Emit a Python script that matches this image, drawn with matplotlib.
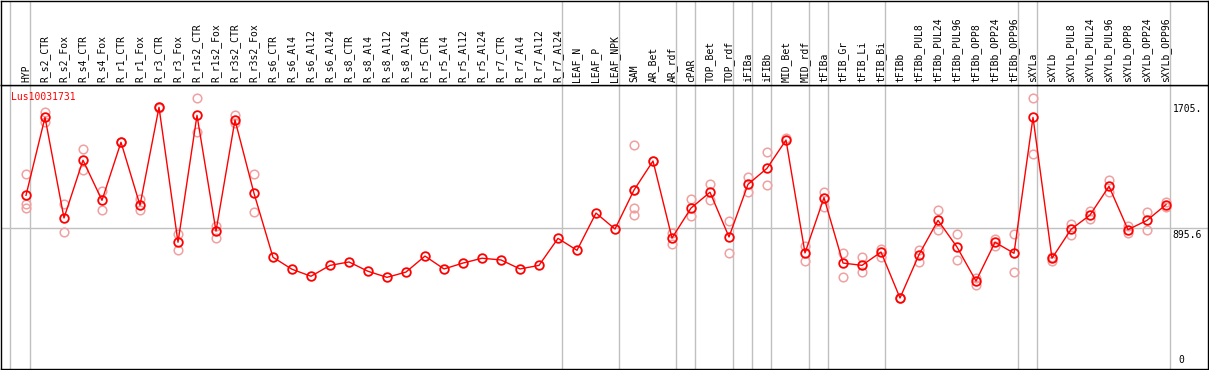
import matplotlib
matplotlib.use("Agg")
import matplotlib.pyplot as plt
from matplotlib.transforms import offset_copy

title = "Lus10031731"

categories = [
    "HYP", "R_s2_CTR", "R_s2_Fox", "R_s4_CTR", "R_s4_Fox", "R_r1_CTR", "R_r1_Fox",
    "R_r3_CTR", "R_r3_Fox", "R_r1s2_CTR", "R_r1s2_Fox", "R_r3s2_CTR", "R_r3s2_Fox",
    "R_s6_CTR", "R_s6_Al4", "R_s6_Al12", "R_s6_Al24", "R_s8_CTR", "R_s8_Al4",
    "R_s8_Al12", "R_s8_Al24", "R_r5_CTR", "R_r5_Al4", "R_r5_Al12", "R_r5_Al24",
    "R_r7_CTR", "R_r7_Al4", "R_r7_Al12", "R_r7_Al24", "LEAF_N", "LEAF_P", "LEAF_NPK",
    "SAM", "AR_Bet", "AR_rdf", "cPAR", "TOP_Bet", "TOP_rdf", "iFIBa", "iFIBb",
    "MID_Bet", "MID_rdf", "tFIBa", "tFIB_Gr", "tFIB_Li", "tFIB_Bi", "tFIBb",
    "tFIBb_PUL8", "tFIBb_PUL24", "tFIBb_PUL96", "tFIBb_OPP8", "tFIBb_OPP24",
    "tFIBb_OPP96", "sXYLa", "sXYLb", "sXYLb_PUL8", "sXYLb_PUL24", "sXYLb_PUL96",
    "sXYLb_OPP8", "sXYLb_OPP24", "sXYLb_OPP96",
]

mean_values = [
    1106, 1608, 960, 1332, 1074, 1448, 1042, 1673, 804, 1621, 876, 1591, 1119,
    707, 630, 585, 655, 677, 617, 578, 612, 715, 632, 670, 701, 690, 632, 655, 829,
    752, 992, 889,
    1140, 1327, 831, 1024, 1126, 838, 1177, 1280, 1462, 735, 1091, 670, 655, 741,
    445, 724, 945, 773, 554, 804, 733,
    1608, 701, 887, 979, 1164, 885, 945, 1046,
]

replicate_values = [
    [1243, 1052, 1026], [1643, 1576], [1048, 868], [1402, 1267], [1136, 1010],
    [1448, 1448], [1080, 1010], [1677, 1668], [855, 752], [1731, 1512], [909, 833],
    [1621, 1574], [1241, 997],
    [], [], [], [], [], [], [], [], [], [], [], [], [], [], [], [],
    [], [], [],
    [1430, 1140, 1024, 977], [1327], [865, 795], [1080, 971], [1177, 1076],
    [941, 735], [1224, 1126], [1385, 1171], [1473], [782, 681], [1129, 1033],
    [735, 580], [707, 614], [759, 711],
    [445, 445], [754, 679], [1012, 883], [855, 688], [572, 529], [825, 780],
    [855, 610],
    [1731, 1370], [711, 685], [921, 849], [1007, 952], [1205, 1126], [910, 862],
    [999, 885], [1061, 1029],
]

group_ends = [0, 28, 31, 34, 35, 37, 38, 39, 41, 42, 45, 52, 53, 60]
ref_value = 895.6
axis_labels = ["1705.", "895.6", "0"]
label_values = [1705, 895.6, 0]

W, H = 1209, 370
fig = plt.figure(figsize=(W / 100, H / 100), dpi=100)
fig.patch.set_facecolor("white")

px_top_plot = 85
ax = fig.add_axes([1 / W, 1 / H, 1207 / W, (369 - px_top_plot) / H])
axl = fig.add_axes([1 / W, (H - px_top_plot) / H, 1207 / W, (px_top_plot - 0.5) / H], sharex=ax)

xlo, xhi = -25 / 19, 1182 / 19
ax.set_xlim(xlo, xhi)
ax.set_ylim((367.1 - 369) / 0.1553, (367.1 - 85) / 0.1553)
axl.set_ylim(0, 1)

for a in (ax, axl):
    a.set_xticks([])
    a.set_yticks([])
    for s in a.spines.values():
        s.set_color("black")
        s.set_linewidth(1.0)

grey = "#c0c0c0"
sep_positions = [-16 / 19] + [e + 0.23 for e in group_ends]
for xp in sep_positions:
    ax.axvline(xp, color=grey, lw=1.0, zorder=1)
    axl.axvline(xp, color=grey, lw=1.0, zorder=1)
ax.axhline(ref_value, color=grey, lw=1.0, zorder=1)

xs = list(range(len(categories)))
rx, ry = [], []
for i, reps in enumerate(replicate_values):
    for v in reps:
        rx.append(i)
        ry.append(v)
ax.plot(rx, ry, linestyle="none", marker="o", markersize=6.2, markerfacecolor="none",
        markeredgecolor="#f0a0a0", markeredgewidth=1.1, zorder=2)
ax.plot(xs, mean_values, color="#ff0000", lw=1.0, marker="o", markersize=6.2,
        markerfacecolor="none", markeredgecolor="#ff0000", markeredgewidth=1.3, zorder=3)

mono = "DejaVu Sans Mono"
for i, c in enumerate(categories):
    axl.text(i, 0.0, c, rotation=90, ha="center", va="bottom", fontsize=7,
             family=mono, transform=offset_copy(axl.transData, fig=fig, x=0, y=3, units="dots"))

ax.text(10 / 1207, 1 - 12 / 284, title, transform=ax.transAxes, color="#ff0000",
        fontsize=7, family=mono, ha="left", va="center")

for lab, v in zip(axis_labels[:2], label_values[:2]):
    ax.text(1171.5 / 1207 * (1) , v, lab, fontsize=7, family=mono, ha="left", va="top",
            transform=offset_copy(ax.get_yaxis_transform(), fig=fig, x=0, y=-2, units="dots"),
            clip_on=True)
ax.text(1177 / 1207, 4 / 284, axis_labels[2], transform=ax.transAxes, fontsize=7,
        family=mono, ha="left", va="bottom")

fig.savefig("out.png", dpi=100, facecolor="white")
